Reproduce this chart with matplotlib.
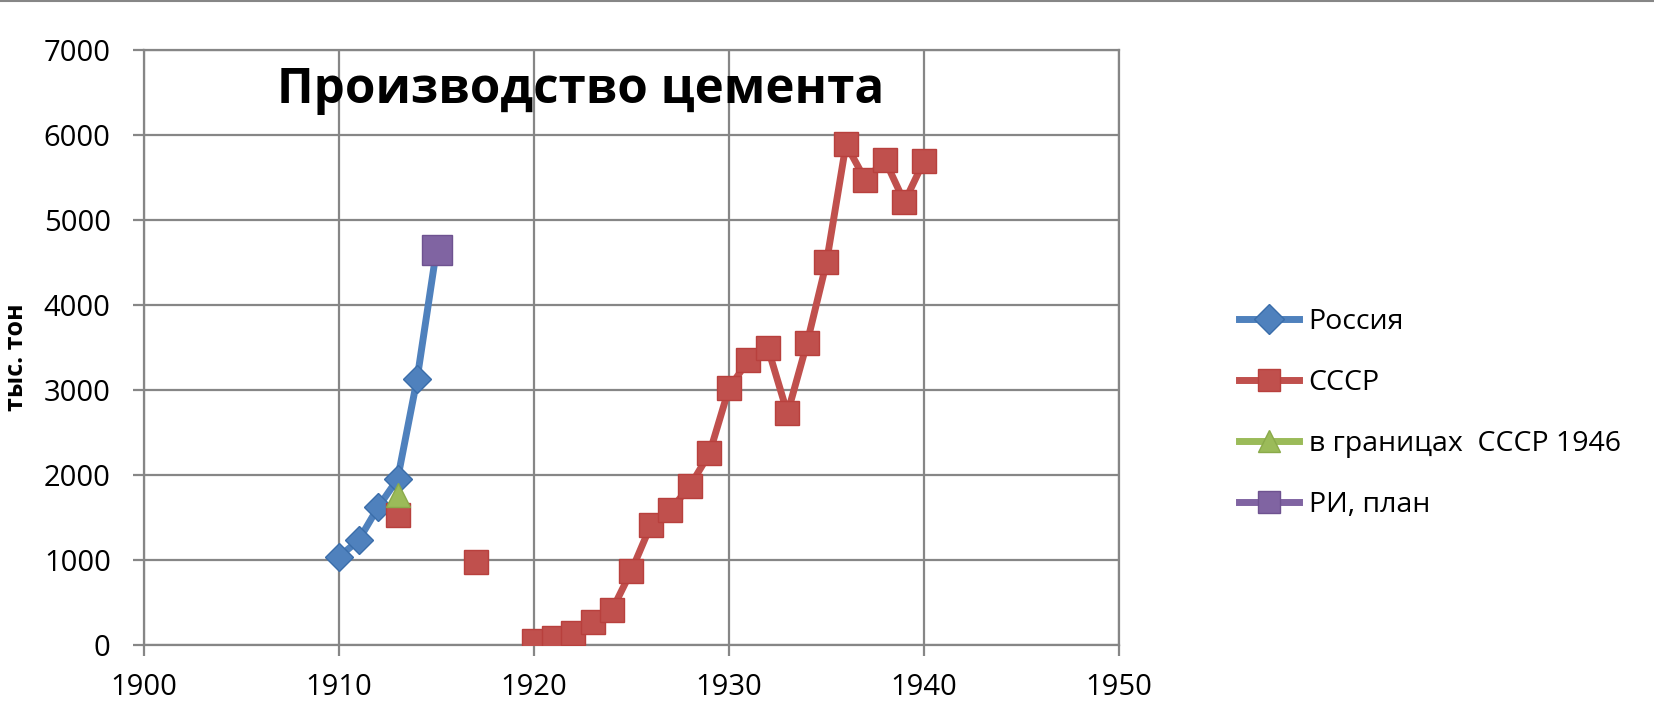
import matplotlib
matplotlib.use('Agg')
import matplotlib.pyplot as plt
from matplotlib.lines import Line2D

plt.rcParams['font.family'] = ['Open Sans', 'DejaVu Sans']

# ── data ────────────────────────────────────────────────────────────────────
russia_years  = [1910, 1911, 1912, 1913, 1914, 1915]
russia_vals   = [1040, 1230, 1620, 1950, 3125, 4650]

ussr_years_a  = [1913, 1917]
ussr_vals_a   = [1530, 980]
ussr_years_b  = [1920, 1921, 1922, 1923, 1924, 1925, 1926, 1927, 1928, 1929,
                 1930, 1931, 1932, 1933, 1934, 1935, 1936, 1937, 1938, 1939, 1940]
ussr_vals_b   = [50, 80, 145, 275, 410, 875, 1415, 1590, 1870, 2255,
                 3020, 3350, 3490, 2725, 3550, 4500, 5890, 5470, 5705, 5210, 5695]

border_years  = [1913]
border_vals   = [1770]

plan_years    = [1915]
plan_vals     = [4650]

labels = ['Россия', 'СССР', 'в границах  СССР 1946', 'РИ, план']

BLUE, RED, GREEN, PURPLE = '#4F81BD', '#C0504D', '#9BBB59', '#8064A2'
GRID = '#868686'

fig = plt.figure(figsize=(16.54, 7.14), dpi=100)
ax = fig.add_axes([0.0871, 0.0966, 0.6765 - 0.0871, 0.930 - 0.0966])

ax.plot(russia_years, russia_vals, color=BLUE, lw=5, marker='D', ms=14,
        mfc=BLUE, mec='#3A6DAA', mew=1, zorder=3)
ax.plot(ussr_years_a, ussr_vals_a, ls='none', marker='s', ms=17,
        mfc=RED, mec='#B8403D', mew=1, zorder=3)
ax.plot(ussr_years_b, ussr_vals_b, color=RED, lw=5, marker='s', ms=17,
        mfc=RED, mec='#B8403D', mew=1, zorder=3)
ax.plot(border_years, border_vals, ls='none', marker='^', ms=17,
        mfc=GREEN, mec='#8AAA4A', mew=1, zorder=4)
ax.plot(plan_years, plan_vals, ls='none', marker='s', ms=21,
        mfc=PURPLE, mec='#6E5290', mew=1, zorder=4)

ax.set_xlim(1900, 1950)
ax.set_ylim(0, 7000)
ax.set_xticks(range(1900, 1951, 10))
ax.set_yticks(range(0, 7001, 1000))
ax.grid(True, color=GRID, lw=1.6)
ax.set_axisbelow(True)
for s in ax.spines.values():
    s.set_color(GRID)
    s.set_linewidth(1.6)
ax.tick_params(axis='both', labelsize=21, color=GRID, length=8, width=1.6,
               direction='out')
ax.tick_params(axis='x', pad=12)
ax.tick_params(axis='y', pad=16)

fig.text(0.0097, 0.5, 'тыс. тон', rotation=90, ha='center', va='center',
         fontsize=18, fontweight='bold')

fig.text(0.3513, 0.873, 'Производство цемента', ha='center', va='center',
         fontsize=35.5, fontweight='bold')

handles = [
    Line2D([], [], color=BLUE, lw=5, marker='D', ms=15, mfc=BLUE, mec='#3A6DAA'),
    Line2D([], [], color=RED, lw=5, marker='s', ms=16, mfc=RED, mec='#B8403D'),
    Line2D([], [], color=GREEN, lw=5, marker='^', ms=16, mfc=GREEN, mec='#8AAA4A'),
    Line2D([], [], color=PURPLE, lw=5, marker='s', ms=16, mfc=PURPLE, mec='#6E5290'),
]
fig.legend(handles, labels, loc='center left', bbox_to_anchor=(0.749, 0.421),
           frameon=False, fontsize=20.5, handlelength=2.1, handletextpad=0.35,
           labelspacing=1.16, borderpad=0, borderaxespad=0)

# thin grey rule along the top edge
fig.add_artist(Line2D([0, 1], [0.999, 0.999], color=GRID, lw=1.5,
                      transform=fig.transFigure))

fig.savefig('out.png', dpi=100)
